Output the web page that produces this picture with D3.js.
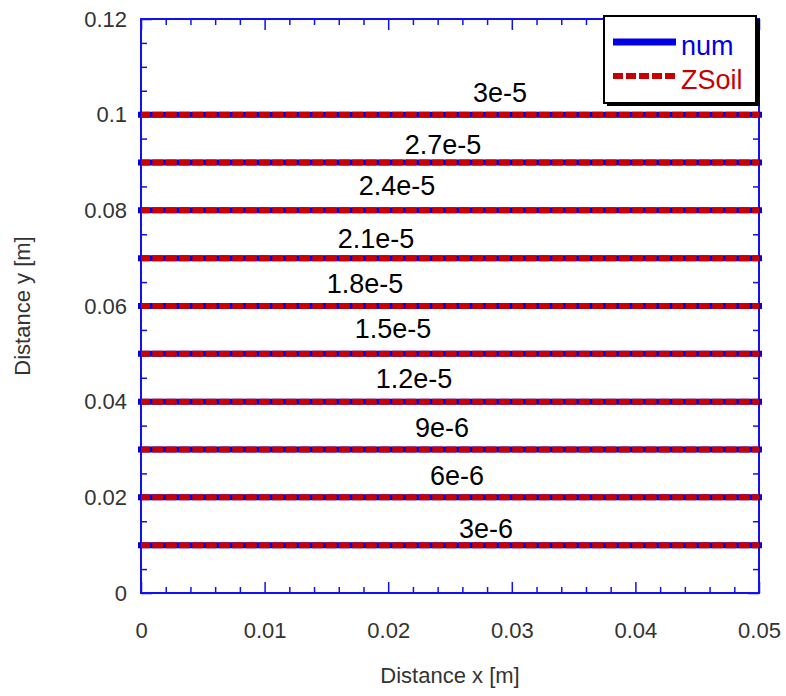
<!DOCTYPE html>
<html>
<head>
<meta charset="utf-8">
<script src="https://cdn.jsdelivr.net/npm/d3@7/dist/d3.min.js"></script>
<style>
  html, body { margin: 0; padding: 0; background: #fff; }
  svg { display: block; font-family: "Liberation Sans", Arial, sans-serif; }
</style>
</head>
<body>
<svg id="chart" width="786" height="696"></svg>
<script>
// ---- data ----
const xDomain = [0, 0.05];
const yDomain = [0, 0.12];
const xTicks = [0, 0.01, 0.02, 0.03, 0.04, 0.05];
const xTickLabels = ["0", "0.01", "0.02", "0.03", "0.04", "0.05"];
const yTicks = [0, 0.02, 0.04, 0.06, 0.08, 0.1, 0.12];
const yTickLabels = ["0", "0.02", "0.04", "0.06", "0.08", "0.1", "0.12"];
const xMinorStep = 0.002;
const yMinorStep = 0.005;

// contour lines (y positions) for the two series, and contour values
const contourValues = ["3e-6", "6e-6", "9e-6", "1.2e-5", "1.5e-5", "1.8e-5", "2.1e-5", "2.4e-5", "2.7e-5", "3e-5"];
const numY   = [0.01, 0.02, 0.03, 0.04, 0.05, 0.06, 0.07, 0.08, 0.09, 0.10];
const zsoilY = [0.01, 0.02, 0.03, 0.04, 0.05, 0.06, 0.07, 0.08, 0.09, 0.10];
// contour label anchor positions (data units: centre x, baseline y)
const labelX = [0.02791, 0.02557, 0.02435, 0.02209, 0.02039, 0.01812, 0.01901, 0.02071, 0.02443, 0.02905];
const labelY = [0.0115, 0.02258, 0.03261, 0.04286, 0.05331, 0.06272, 0.07213, 0.08321, 0.09178, 0.10265];

const seriesNames = ["num", "ZSoil"];

// ---- layout ----
const svg = d3.select("#chart");
const mLeft = 141, mRight = 759, mTop = 19, mBottom = 593;
const x = d3.scaleLinear().domain(xDomain).range([mLeft, mRight]);
const y = d3.scaleLinear().domain(yDomain).range([mBottom, mTop]);

const axisColor = "#1010f0";
const blue = "#0000e6";
const red = "#c80000";

const xMinor = d3.range(0, 0.05 + 1e-9, xMinorStep).filter(v => !xTicks.some(t => Math.abs(t - v) < 1e-9));
const yMinor = d3.range(0, 0.12 + 1e-9, yMinorStep).filter(v => !yTicks.some(t => Math.abs(t - v) < 1e-9));

function styleAxis(g) {
  g.select(".domain").remove();
  g.selectAll("line").attr("stroke", axisColor).attr("stroke-width", 1.5);
  g.selectAll("text").attr("fill", "#333").attr("font-size", 22)
    .attr("font-family", "Liberation Sans, Arial, sans-serif");
}

// bottom axis major + minor
svg.append("g").attr("transform", `translate(0,${mBottom})`)
  .call(d3.axisBottom(x).tickValues(xTicks).tickSize(-11).tickPadding(29)
        .tickFormat((d, i) => xTickLabels[i]))
  .call(styleAxis);
svg.append("g").attr("transform", `translate(0,${mBottom})`)
  .call(d3.axisBottom(x).tickValues(xMinor).tickSize(-6).tickFormat(""))
  .call(styleAxis);
// top axis
svg.append("g").attr("transform", `translate(0,${mTop})`)
  .call(d3.axisTop(x).tickValues(xTicks).tickSize(-11).tickFormat(""))
  .call(styleAxis);
svg.append("g").attr("transform", `translate(0,${mTop})`)
  .call(d3.axisTop(x).tickValues(xMinor).tickSize(-6).tickFormat(""))
  .call(styleAxis);
// left axis
svg.append("g").attr("transform", `translate(${mLeft},0)`)
  .call(d3.axisLeft(y).tickValues(yTicks).tickSize(-11).tickPadding(14)
        .tickFormat((d, i) => yTickLabels[i]))
  .call(styleAxis);
svg.append("g").attr("transform", `translate(${mLeft},0)`)
  .call(d3.axisLeft(y).tickValues(yMinor).tickSize(-6).tickFormat(""))
  .call(styleAxis);
// right axis
svg.append("g").attr("transform", `translate(${mRight},0)`)
  .call(d3.axisRight(y).tickValues(yTicks).tickSize(-11).tickFormat(""))
  .call(styleAxis);
svg.append("g").attr("transform", `translate(${mRight},0)`)
  .call(d3.axisRight(y).tickValues(yMinor).tickSize(-6).tickFormat(""))
  .call(styleAxis);

// frame
svg.append("rect").attr("x", mLeft).attr("y", mTop)
  .attr("width", mRight - mLeft).attr("height", mBottom - mTop)
  .attr("fill", "none").attr("stroke", axisColor).attr("stroke-width", 2);

// series lines
const line = d3.line().x(d => x(d[0])).y(d => y(d[1]));
svg.append("g").selectAll("path").data(numY).join("path")
  .attr("d", v => line([[xDomain[0], v], [xDomain[1], v]]))
  .attr("stroke", blue).attr("stroke-width", 6).attr("fill", "none")
  .attr("stroke-linecap", "square");
svg.append("g").selectAll("path").data(zsoilY).join("path")
  .attr("d", v => line([[xDomain[0], v], [xDomain[1], v]]))
  .attr("stroke", red).attr("stroke-width", 6).attr("fill", "none")
  .attr("stroke-dasharray", "11,2.33").attr("stroke-dashoffset", 2);

// contour labels
svg.append("g").selectAll("text").data(contourValues).join("text")
  .attr("x", (d, i) => x(labelX[i]))
  .attr("y", (d, i) => y(labelY[i]))
  .attr("text-anchor", "middle")
  .attr("font-size", 27)
  .attr("fill", "#000")
  .text(d => d);

// axis titles
svg.append("text").attr("x", (mLeft + mRight) / 2).attr("y", 683)
  .attr("text-anchor", "middle").attr("font-size", 22).attr("fill", "#333")
  .text("Distance x [m]");
svg.append("text").attr("transform", `translate(30,${(mTop + mBottom) / 2}) rotate(-90)`)
  .attr("text-anchor", "middle").attr("font-size", 22).attr("fill", "#333")
  .text("Distance y [m]");

// legend
const lg = svg.append("g");
lg.append("rect").attr("x", 607).attr("y", 19).attr("width", 153).attr("height", 87).attr("fill", "#000");
lg.append("rect").attr("x", 604).attr("y", 16).attr("width", 152).attr("height", 87)
  .attr("fill", "#fff").attr("stroke", "#000").attr("stroke-width", 2);
lg.append("line").attr("x1", 613).attr("x2", 676).attr("y1", 42).attr("y2", 42)
  .attr("stroke", blue).attr("stroke-width", 7);
lg.append("line").attr("x1", 613).attr("x2", 676).attr("y1", 76).attr("y2", 76)
  .attr("stroke", red).attr("stroke-width", 6).attr("stroke-dasharray", "10,3");
lg.append("text").attr("x", 681).attr("y", 55).attr("font-size", 27).attr("fill", blue).text(seriesNames[0]);
lg.append("text").attr("x", 681).attr("y", 89).attr("font-size", 27).attr("fill", red).text(seriesNames[1]);
</script>
</body>
</html>
